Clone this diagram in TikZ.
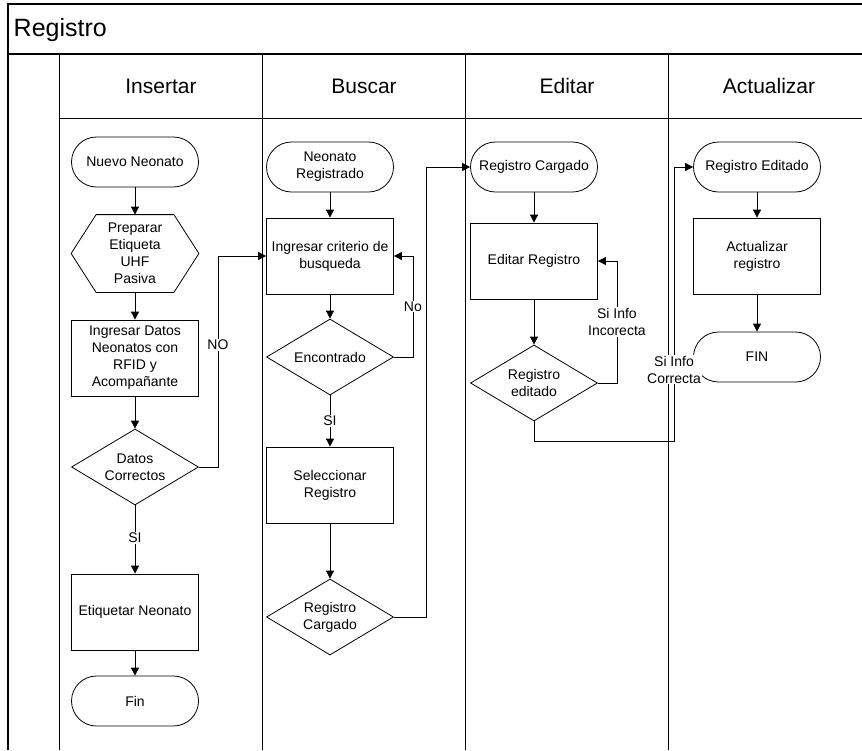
\documentclass[tikz,border=0pt]{standalone}
\usepackage{fontspec}
\setmainfont{Liberation Sans}
\usetikzlibrary{arrows.meta,shapes.geometric}

\begin{document}
\begin{tikzpicture}[x=1pt,y=-1pt,line width=0.8pt,
  every node/.style={font=\fontsize{14}{17}\selectfont,align=center},
  term/.style={draw,rectangle,rounded corners=25pt,minimum width=127pt,minimum height=50pt,inner sep=1pt},
  proc/.style={draw,rectangle,minimum width=127pt,minimum height=76pt,inner sep=1pt},
  dec/.style={draw,diamond,aspect=1.67,minimum width=127pt,minimum height=76pt,inner sep=0pt},
  lbl/.style={fill=white,inner sep=1pt},
  arr/.style={-{Triangle[length=8pt,width=8pt]}}]
\useasboundingbox (0,0) rectangle (862,750);
% frame and lanes
\draw[line width=1.2pt] (8,750) -- (8,4) -- (862,4);
\draw[line width=1.2pt] (8,54) -- (862,54);
\draw (59,118) -- (862,118);
\draw (59,54) -- (59,750) (262,54) -- (262,750) (465,54) -- (465,750) (668,54) -- (668,750);
\node[anchor=west,font=\fontsize{25}{30}\selectfont] (tit) at (10,30) {Registro};
\node[font=\fontsize{21}{25}\selectfont] (h1) at (161,86) {Insertar};
\node[font=\fontsize{21}{25}\selectfont] (h2) at (364,86) {Buscar};
\node[font=\fontsize{21}{25}\selectfont] (h3) at (567,86) {Editar};
\node[font=\fontsize{21}{25}\selectfont] (h4) at (769,86) {Actualizar};
% Insertar
\node[term] (n1) at (135,162) {Nuevo Neonato};
\node[minimum width=127pt,minimum height=77pt,inner sep=1pt] (n2) at (135,253.5) {Preparar\\Etiqueta\\UHF\\Pasiva};
\draw (n2.west) -- ([xshift=25pt]n2.north west) -- ([xshift=-25pt]n2.north east) -- (n2.east) -- ([xshift=-25pt]n2.south east) -- ([xshift=25pt]n2.south west) -- cycle;
\node[proc] (n3) at (135,358) {Ingresar Datos\\Neonatos con\\RFID y\\Acompa\~nante};
\node[dec] (n4) at (135,467) {Datos\\Correctos};
\node[proc] (n5) at (135,612) {Etiquetar Neonato};
\node[term] (n6) at (135,701) {Fin};
% Buscar
\node[term] (b1) at (330,167) {Neonato\\Registrado};
\node[proc] (b2) at (330,256) {Ingresar criterio de\\busqueda};
\node[dec] (b3) at (330,357) {Encontrado};
\node[proc] (b4) at (330,485) {Seleccionar\\Registro};
\node[dec] (b5) at (330,617) {Registro\\Cargado};
% Editar
\node[term] (e1) at (534,167) {Registro Cargado};
\node[proc] (e2) at (534,261) {Editar Registro};
\node[dec] (e3) at (534,383) {Registro\\editado};
% Actualizar
\node[term] (a1) at (757,167) {Registro Editado};
\node[proc] (a2) at (757,256) {Actualizar\\registro};
\node[term] (a3) at (757,357) {FIN};
\coordinate (c1) at (674,441);
% connectors
\draw[arr] (n1) -- (n2.north);
\draw[arr] (n2.south) -- (n3);
\draw[arr] (n3) -- (n4);
\draw[arr] (n4) -- node[lbl,pos=0.48] {SI} (n5);
\draw[arr] (n5) -- (n6);
\draw[arr] (n4.east) -- ++(19,0) |- node[lbl,pos=0.29] {NO} (b2.west);
\draw[arr] (b1) -- (b2);
\draw[arr] (b2) -- (b3);
\draw[arr] (b3.east) -- ++(19,0) |- node[lbl,pos=0.25] {No} (b2.east);
\draw[arr] (b3) -- node[lbl] {SI} (b4);
\draw[arr] (b4) -- (b5);
\draw[arr] (b5.east) -- ++(32,0) |- (e1.west);
\draw[arr] (e1) -- (e2);
\draw[arr] (e2) -- (e3);
\draw[arr] (e3.east) -- ++(19,0) |- node[lbl,pos=0.25] {Si Info\\Incorecta} (e2.east);
\draw[arr] (e3.south) |- (c1) |- node[lbl,pos=0.13] {Si Info\\Correcta} (a1.west);
\draw[arr] (a1) -- (a2);
\draw[arr] (a2) -- (a3);
\end{tikzpicture}
\end{document}
